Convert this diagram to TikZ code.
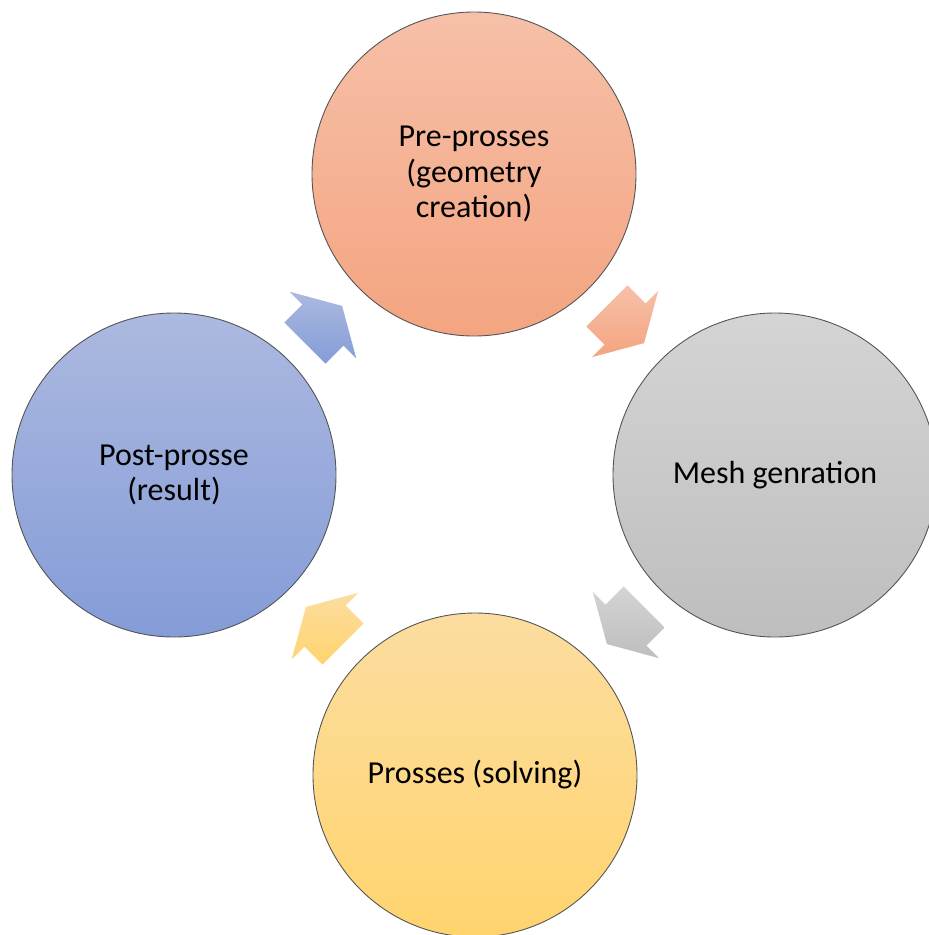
\documentclass[tikz,border=0pt]{standalone}
\usepackage{fontspec}
\setmainfont{Carlito}
\usetikzlibrary{calc}
\definecolor{orT}{RGB}{246,192,168}
\definecolor{orB}{RGB}{244,164,128}
\definecolor{grT}{RGB}{212,212,212}
\definecolor{grB}{RGB}{190,190,190}
\definecolor{yeT}{RGB}{252,221,160}
\definecolor{yeB}{RGB}{255,212,110}
\definecolor{blT}{RGB}{172,185,224}
\definecolor{blB}{RGB}{132,156,215}
\definecolor{rim}{RGB}{85,85,85}
\tikzset{
  stage/.style={circle, draw=rim, line width=0.9pt, minimum size=324pt, inner sep=0pt,
    align=center, font=\fontsize{32}{35.5}\selectfont, text=black},
  blockarrow/.style={draw=none},
}
% #1 centre, #2 direction angle, #3 top colour, #4 bottom colour
\newcommand{\flowarrow}[4]{%
  \path[blockarrow, top color=#3, bottom color=#4]
    ($(#1)+(#2:-25.5)+(#2+90:29)$) --
    ($(#1)+(#2:0)+(#2+90:29)$) --
    ($(#1)+(#2:0)+(#2+90:47)$) --
    ($(#1)+(#2:27)$) --
    ($(#1)+(#2:0)+(#2-90:47)$) --
    ($(#1)+(#2:0)+(#2-90:29)$) --
    ($(#1)+(#2:-25.5)+(#2-90:29)$) -- cycle;}
\begin{document}
\begin{tikzpicture}[x=1pt,y=-1pt]
\useasboundingbox (0,0) rectangle (929,935);
\begin{scope}
\clip (0,0) rectangle (929,935);
\node[stage, top color=orT, bottom color=orB] (pre) at (474,174) {Pre-prosses\\(geometry\\creation)};
\node[stage, top color=grT, bottom color=grB] (mesh) at (775,475) {Mesh genration};
\node[stage, top color=yeT, bottom color=yeB] (solve) at (475,775) {Prosses (solving)};
\node[stage, top color=blT, bottom color=blB] (post) at (174,475) {Post-prosse\\(result)};
\end{scope}
\coordinate (a1) at (323,325);
\coordinate (a2) at (625,324);
\coordinate (a3) at (626,625);
\coordinate (a4) at (325,626);
\flowarrow{a1}{-45}{blT}{blB}
\flowarrow{a2}{45}{orT}{orB}
\flowarrow{a3}{135}{grT}{grB}
\flowarrow{a4}{-135}{yeT}{yeB}
\end{tikzpicture}
\end{document}
